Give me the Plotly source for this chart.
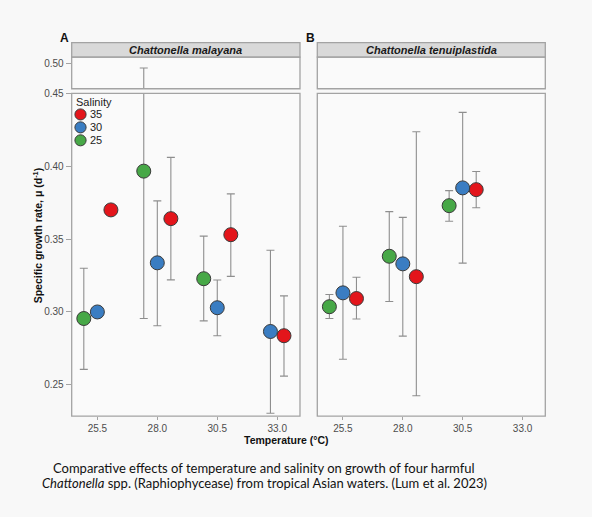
import plotly.graph_objects as go

W, H = 592, 517

# ---------------- data ----------------
temps = [25.5, 28.0, 30.5, 33.0]
salinities = ["35", "30", "25"]
colors = {"35": "#E3151B", "30": "#3A7DC2", "25": "#47A847"}

# Panel A: Chattonella malayana
mal_35 = [0.370, 0.364, 0.353, 0.2837]
mal_35_hi = [0.372, 0.406, 0.381, 0.311]
mal_35_lo = [0.368, 0.322, 0.3244, 0.256]
mal_30 = [0.300, 0.3337, 0.3029, 0.2866]
mal_30_hi = [0.302, 0.3762, 0.3219, 0.3423]
mal_30_lo = [0.298, 0.2905, 0.2837, 0.2305]
mal_25 = [0.2955, 0.3966, 0.3228, None]
mal_25_hi = [0.330, 0.490, 0.352, None]
mal_25_lo = [0.2606, 0.2955, 0.2939, None]

# Panel B: Chattonella tenuiplastida
ten_35 = [0.3092, 0.3242, 0.3839, None]
ten_35_hi = [0.3238, 0.4236, 0.3963, None]
ten_35_lo = [0.2952, 0.2425, 0.3715, None]
ten_30 = [0.3131, 0.3330, 0.3851, None]
ten_30_hi = [0.3588, 0.3649, 0.4369, None]
ten_30_lo = [0.2676, 0.2834, 0.3335, None]
ten_25 = [0.3036, 0.3382, 0.3729, None]
ten_25_hi = [0.3120, 0.3688, 0.3832, None]
ten_25_lo = [0.2955, 0.3072, 0.3622, None]

panels = [
    {"name": "Chattonella malayana", "label": "A",
     "mean": {"35": mal_35, "30": mal_30, "25": mal_25},
     "hi": {"35": mal_35_hi, "30": mal_30_hi, "25": mal_25_hi},
     "lo": {"35": mal_35_lo, "30": mal_30_lo, "25": mal_25_lo}},
    {"name": "Chattonella tenuiplastida", "label": "B",
     "mean": {"35": ten_35, "30": ten_30, "25": ten_25},
     "hi": {"35": ten_35_hi, "30": ten_30_hi, "25": ten_25_hi},
     "lo": {"35": ten_35_lo, "30": ten_30_lo, "25": ten_25_lo}},
]

main_ticks = [0.25, 0.30, 0.35, 0.40, 0.45]
top_ticks = [0.50]

# ---------------- layout helpers ----------------
def px(x):
    return x / W

def py(y):
    return 1 - y / H

DODGE = 0.565
dodge_order = ["25", "30", "35"]

FONT = "Liberation Sans, Arial, sans-serif"
GRID_COL = "#A3A3A3"
ERR_COL = "#8E8E8E"
OUTLINE = "#3A3A3A"

xdomains = [[px(71.7), px(300)], [px(317.3), px(545.3)]]
main_dom = [py(415), py(88.3)]
top_dom = [py(83.7), py(51.7)]
strip_dom = [py(51.7), py(37)]

fig = go.Figure()

for pi, panel in enumerate(panels):
    xa = "x" if pi == 0 else "x2"
    ya_main = "y" if pi == 0 else "y3"
    ya_top = "y2" if pi == 0 else "y4"
    xs = {s: [] for s in salinities}
    for ti, t in enumerate(temps):
        present = [s for s in dodge_order if panel["mean"][s][ti] is not None]
        n = len(present)
        for s in salinities:
            if s in present:
                r = present.index(s)
                xs[s].append(t + (r - (n - 1) / 2) * DODGE)
            else:
                xs[s].append(None)
    for s in salinities:
        m = panel["mean"][s]
        hi = panel["hi"][s]
        lo = panel["lo"][s]
        plus = [None if v is None else h - v for v, h in zip(m, hi)]
        minus = [None if v is None else v - l for v, l in zip(m, lo)]
        for ya in (ya_main, ya_top):
            fig.add_trace(go.Scatter(
                x=xs[s], y=m, xaxis=xa, yaxis=ya,
                mode="markers", name=s, showlegend=False,
                marker=dict(size=14, color=colors[s],
                            line=dict(color=OUTLINE, width=1)),
                error_y=dict(type="data", array=plus, arrayminus=minus,
                             color=ERR_COL, thickness=1.1, width=4),
            ))

axis_common = dict(showgrid=False, zeroline=False, showline=False)
xrange_ = [24.43, 33.95]

fig.update_layout(
    width=W, height=H,
    margin=dict(l=0, r=0, t=0, b=0),
    paper_bgcolor="#F8F8F8",
    plot_bgcolor="#FAFAFA",
    font=dict(family=FONT, color="#4D4D4D", size=10),
    showlegend=False,
    xaxis=dict(domain=xdomains[0], anchor="y", range=xrange_, tickvals=temps,
               ticktext=[f"{t:.1f}" for t in temps], ticks="outside",
               ticklen=3, tickcolor=GRID_COL, **axis_common),
    xaxis2=dict(domain=xdomains[1], anchor="y3", range=xrange_, tickvals=temps,
                ticktext=[f"{t:.1f}" for t in temps], ticks="outside",
                ticklen=3, tickcolor=GRID_COL, **axis_common),
    yaxis=dict(domain=main_dom, anchor="x", range=[0.2285, 0.450],
               tickvals=main_ticks, ticktext=[f"{v:.2f}" for v in main_ticks],
               ticks="outside", ticklen=5, tickcolor=GRID_COL, **axis_common),
    yaxis2=dict(domain=top_dom, anchor="x", range=[0.448, 0.512],
                tickvals=top_ticks, ticktext=[f"{v:.2f}" for v in top_ticks],
                ticks="outside", ticklen=5, tickcolor=GRID_COL, **axis_common),
    yaxis3=dict(domain=main_dom, anchor="x2", range=[0.2285, 0.450],
                showticklabels=False, **axis_common),
    yaxis4=dict(domain=top_dom, anchor="x2", range=[0.448, 0.512],
                showticklabels=False, **axis_common),
)

shapes = []
annotations = []
for pi, panel in enumerate(panels):
    xd = "x domain" if pi == 0 else "x2 domain"
    ym = "y domain" if pi == 0 else "y3 domain"
    yt = "y2 domain" if pi == 0 else "y4 domain"
    for yref in (ym, yt):
        shapes.append(dict(type="rect", xref=xd, yref=yref, x0=0, x1=1, y0=0, y1=1,
                           line=dict(color=GRID_COL, width=1.3), fillcolor="rgba(0,0,0,0)"))
    shapes.append(dict(type="rect", xref=xd, yref="paper", x0=0, x1=1,
                       y0=strip_dom[0], y1=strip_dom[1],
                       line=dict(color=GRID_COL, width=1.3), fillcolor="#D9D9D9",
                       layer="below"))
    annotations.append(dict(xref=xd, yref="paper", x=0.5, y=(strip_dom[0] + strip_dom[1]) / 2,
                            text=f"<b><i>{panel['name']}</i></b>", showarrow=False,
                            font=dict(size=11, color="#1A1A1A", family=FONT),
                            xanchor="center", yanchor="middle"))

# ---------------- legend (compact, ggplot-like) ----------------
LEG_X, LEG_TITLE_Y, LEG_Y0, LEG_STEP, LEG_R = 80.5, 97.2, 109.7, 13.1, 5.6
annotations.append(dict(xref="paper", yref="paper", x=px(73.5), y=py(LEG_TITLE_Y),
                        text="Salinity", showarrow=False, xanchor="left", yanchor="middle",
                        font=dict(size=11, color="#222")))
for i, s in enumerate(salinities):
    cy = LEG_Y0 + i * LEG_STEP
    shapes.append(dict(type="circle", xref="paper", yref="paper",
                       x0=px(LEG_X - LEG_R), x1=px(LEG_X + LEG_R),
                       y0=py(cy + LEG_R), y1=py(cy - LEG_R),
                       fillcolor=colors[s], line=dict(color=OUTLINE, width=1)))
    annotations.append(dict(xref="paper", yref="paper", x=px(87.5), y=py(cy),
                            text=s, showarrow=False, xanchor="left", yanchor="middle",
                            font=dict(size=11, color="#222")))

annotations += [
    dict(xref="paper", yref="paper", x=px(64), y=py(32), text="<b>A</b>", showarrow=False,
         font=dict(size=12, color="#111"), xanchor="center", yanchor="middle"),
    dict(xref="paper", yref="paper", x=px(310), y=py(32), text="<b>B</b>", showarrow=False,
         font=dict(size=12, color="#111"), xanchor="center", yanchor="middle"),
    dict(xref="paper", yref="paper", x=px(286), y=py(439), text="<b>Temperature (°C)</b>",
         showarrow=False, font=dict(size=10.5, color="#111"), xanchor="center", yanchor="middle"),
    dict(xref="paper", yref="paper", x=px(37), y=py(233),
         text="<b>Specific growth rate, μ (d<sup>-1</sup>)</b>", textangle=-90,
         showarrow=False, font=dict(size=10.5, color="#111"), xanchor="center", yanchor="middle"),
    dict(xref="paper", yref="paper", x=px(264), y=py(467),
         text="Comparative effects of temperature and salinity on growth of four harmful",
         showarrow=False, font=dict(size=13, color="#111", family="Lato, sans-serif"),
         xanchor="center", yanchor="middle"),
    dict(xref="paper", yref="paper", x=px(264), y=py(483),
         text="<i>Chattonella</i> spp. (Raphiophycease) from tropical Asian waters. (Lum et al. 2023)",
         showarrow=False, font=dict(size=13, color="#111", family="Lato, sans-serif"),
         xanchor="center", yanchor="middle"),
]

fig.update_layout(shapes=shapes, annotations=annotations)
fig.write_html("out.html", config={"displayModeBar": False},
               post_script="document.body.style.margin='0';document.body.style.padding='0';")
